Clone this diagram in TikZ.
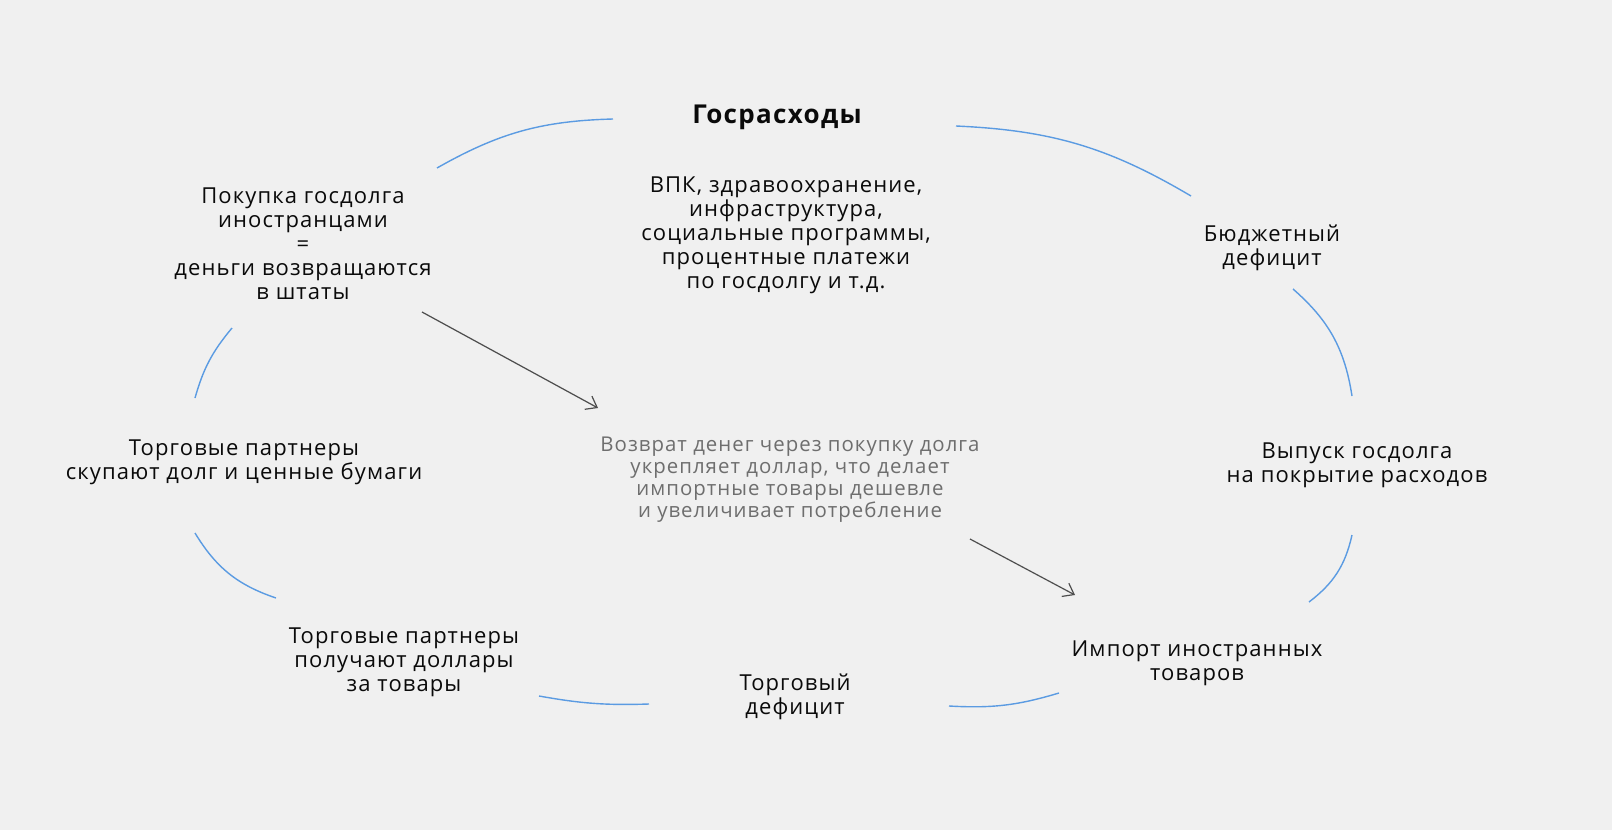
\documentclass[tikz,border=0pt]{standalone}
\usepackage{fontspec}
\setmainfont{Open Sans}[LetterSpace=5]
\usetikzlibrary{arrows.meta}
\definecolor{bgcol}{HTML}{F0F0F0}
\definecolor{arccol}{HTML}{5B9BE2}
\definecolor{arrcol}{HTML}{4D4D4D}
\definecolor{notecol}{HTML}{6E6E6E}
\definecolor{txtcol}{HTML}{0A0A0A}

\begin{document}
\begin{tikzpicture}[
    x=0.5pt, y=-0.5pt,
    stage/.style={font=\fontsize{11}{12}\selectfont, text=txtcol, align=center, inner sep=0pt},
    stage title/.style={font=\fontsize{13}{14}\selectfont\bfseries, text=txtcol, inner sep=0pt},
    note/.style={font=\fontsize{10.2}{11}\selectfont, text=notecol, align=center, inner sep=0pt},
    carc/.style={arccol, line width=0.7pt},
    cause/.style={-{Straight Barb[length=5pt,width=7.5pt]}, arrcol, line width=0.6pt}
]
% Canvas - fixed to the reference size
\fill[bgcol] (0,0) rectangle (1612,830);
\useasboundingbox (0,0) rectangle (1612,830);

% Stages of the cycle, clockwise from the top
\node[stage title] (GR) at (777,117) {Госрасходы};
\node[stage] (VPK) at (786,235) {ВПК, здравоохранение,\\ инфраструктура,\\ социальные программы,\\ процентные платежи\\ по госдолгу и т.д.};
\node[stage] (BD) at (1272,248) {Бюджетный\\ дефицит};
\node[stage] (VG) at (1357,465) {Выпуск госдолга\\ на покрытие расходов};
\node[stage] (IM) at (1197,663) {Импорт иностранных\\ товаров};
\node[stage] (TD) at (795,697) {Торговый\\ дефицит};
\node[stage] (TP) at (404,662) {Торговые партнеры\\ получают доллары\\ за товары};
\node[stage] (TS) at (244,462) {Торговые партнеры\\ скупают долг и ценные бумаги};
\node[stage] (PK) at (303,244) {Покупка госдолга\\ иностранцами\\ =\\ деньги возвращаются\\ в штаты};

% Explanation in the middle
\node[note] (NT) at (790,480) {Возврат денег через покупку долга\\ укрепляет доллар, что делает\\ импортные товары дешевле\\ и увеличивает потребление};

% Arc ends (the arcs stop short of the labels)
\coordinate (a1) at (437,168);  \coordinate (b1) at (613,119);
\coordinate (a2) at (956,126);  \coordinate (b2) at (1191,196);
\coordinate (a3) at (1293,289); \coordinate (b3) at (1352,396);
\coordinate (a4) at (1352,535); \coordinate (b4) at (1309,602);
\coordinate (a5) at (1059,693); \coordinate (b5) at (949,706);
\coordinate (a6) at (649,704);  \coordinate (b6) at (539,696);
\coordinate (a7) at (276,598);  \coordinate (b7) at (195,533);
\coordinate (a8) at (195,398);  \coordinate (b8) at (232,328);

% Blue arcs of the cycle
% PK -> GR
\draw[carc] (a1) to[bend left=14] (b1);
% GR -> BD
\draw[carc] (a2) to[bend left=14] (b2);
% BD -> VG
\draw[carc] (a3) to[bend left=20] (b3);
% VG -> IM
\draw[carc] (a4) to[bend left=20] (b4);
% IM -> TD
\draw[carc] (a5) to[bend left=10] (b5);
% TD -> TP
\draw[carc] (a6) to[bend left=6] (b6);
% TP -> TS
\draw[carc] (a7) to[bend left=20] (b7);
% TS -> PK
\draw[carc] (a8) to[bend left=12] (b8);

% Shortcut through the middle
\coordinate (c1) at (422,312); \coordinate (d1) at (598,408);
\coordinate (c2) at (970,539); \coordinate (d2) at (1075,595);
\draw[cause] (c1) -- (d1);
\draw[cause] (c2) -- (d2);

\end{tikzpicture}
\end{document}
